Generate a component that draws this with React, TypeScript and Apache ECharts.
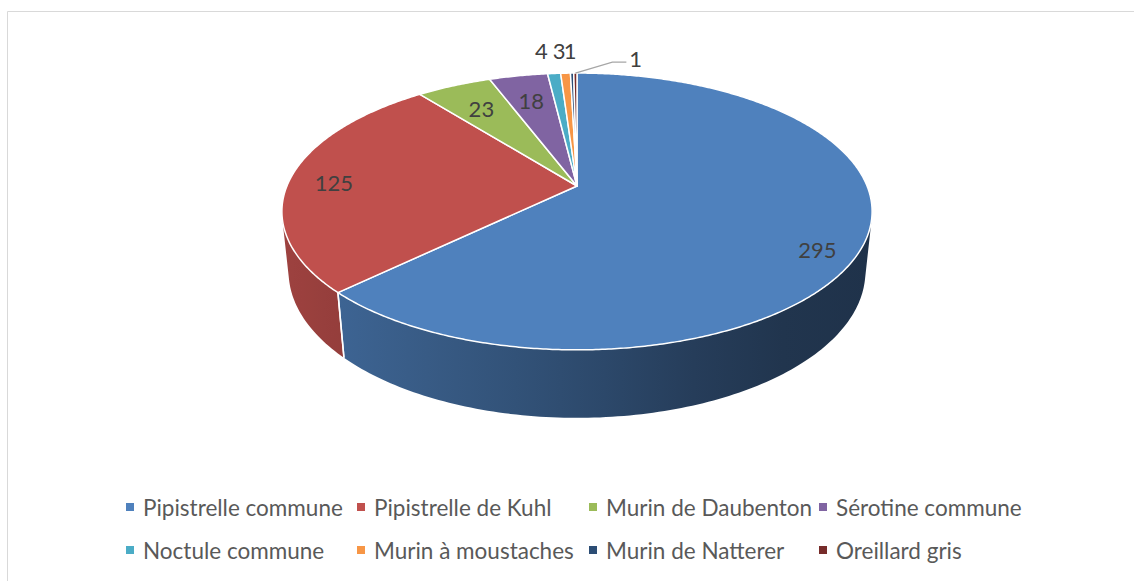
import React, { useEffect, useRef } from 'react';
import * as echarts from 'echarts';

// ---- data ----
const NAMES = [
  'Pipistrelle commune',
  'Pipistrelle de Kuhl',
  'Murin de Daubenton',
  'Sérotine commune',
  'Noctule commune',
  'Murin à moustaches',
  'Murin de Natterer',
  'Oreillard gris',
];
const VALUES = [295, 125, 23, 18, 4, 3, 1, 1];
const COLORS = ['#4F81BD', '#C0504D', '#9BBB59', '#8064A2', '#4BACC6', '#F79646', '#2C4D75', '#772C2A'];

// ---- layout (not data) ----
const LEGEND_COLUMNS = [[0, 4], [1, 5], [2, 6], [3, 7]];
const LEGEND_X = [126, 357, 589, 819];
const LABEL_LAYOUT: any[] = [
  { r: 0.85, y: -0.06, dx: 0 },
  { r: 0.85, y: -0.015, dx: 0 },
  { r: 0.75, y: 0, dx: 0 },
  { r: 0.75, y: 0, dx: 0 },
  { r: 1.25, y: 0, dx: -8 },
  { r: 1.25, y: 0, dx: -4 },
  { r: 1.25, y: 0, dx: -1 },
  { leader: true },
];

// perspective projection of a unit-radius disc
const CX = 577, CY = 186, F = 1399, D = 4.823, SIN = 0.461, COS = 0.887, H = 0.236;
function proj(x: number, y: number, z: number): number[] {
  const w = D - y * SIN - z * COS;
  return [CX + (F * x) / w, CY - (F * (y * COS - z * SIN)) / w];
}
const rim = (phi: number, r: number, y: number) => proj(r * Math.sin(phi), y, -r * Math.cos(phi));
const K = 1 / (D * COS);
const PHI_MIN = Math.acos(-K);
const PHI_MAX = 2 * Math.PI - PHI_MIN;

const SHADE_STOPS = [[0, 0.82], [0.55, 0.56], [0.8, 0.42], [1, 0.39]];
function shadeFactor(x: number) {
  const t = Math.max(0, Math.min(1, (x - 285) / 585));
  for (let i = 1; i < SHADE_STOPS.length; i++) {
    const [t0, f0] = SHADE_STOPS[i - 1];
    const [t1, f1] = SHADE_STOPS[i];
    if (t <= t1) return f0 + ((f1 - f0) * (t - t0)) / (t1 - t0);
  }
  return 0.39;
}
function mulColor(hex: string, f: number) {
  const n = parseInt(hex.slice(1), 16);
  const r = Math.round(((n >> 16) & 255) * f);
  const g = Math.round(((n >> 8) & 255) * f);
  const b = Math.round((n & 255) * f);
  return `rgb(${r},${g},${b})`;
}

const FONT = 'Lato, "Open Sans", sans-serif';

export default function App() {
  const ref = useRef<HTMLDivElement>(null);
  useEffect(() => {
    document.body.style.margin = '0';
    if (!ref.current) return;
    const chart = echarts.init(ref.current, undefined, { renderer: 'svg' });
    const total = VALUES.reduce((a, b) => a + b, 0);

    const renderItem = (params: any) => {
      const i = params.dataIndex;
      let start = 0;
      for (let j = 0; j < i; j++) start += VALUES[j];
      const a0 = (start / total) * 2 * Math.PI;
      const a1 = ((start + VALUES[i]) / total) * 2 * Math.PI;
      const children: any[] = [];

      // front-facing outer wall
      const w0 = Math.max(a0, PHI_MIN);
      const w1 = Math.min(a1, PHI_MAX);
      if (w1 > w0) {
        const n = Math.max(2, Math.ceil((w1 - w0) / (Math.PI / 180)));
        const top: number[][] = [];
        const bot: number[][] = [];
        for (let k = 0; k <= n; k++) {
          const phi = w0 + ((w1 - w0) * k) / n;
          top.push(rim(phi, 1, 0));
          bot.push(rim(phi, 1, -H));
        }
        const pts = top.concat(bot.reverse());
        const xs = pts.map((p) => p[0]);
        const xmin = Math.min(...xs);
        const xmax = Math.max(...xs);
        const stops = [];
        for (let k = 0; k <= 6; k++) {
          const x = xmin + ((xmax - xmin) * k) / 6;
          stops.push({ offset: k / 6, color: mulColor(COLORS[i], shadeFactor(x)) });
        }
        children.push({
          type: 'polygon',
          shape: { points: pts },
          style: { fill: new echarts.graphic.LinearGradient(0, 0, 1, 0, stops) },
        });
        [a0, a1].forEach((a) => {
          if (a > PHI_MIN && a < PHI_MAX) {
            const p = rim(a, 1, 0);
            const q = rim(a, 1, -H);
            children.push({
              type: 'line',
              shape: { x1: p[0], y1: p[1], x2: q[0], y2: q[1] },
              style: { stroke: '#ffffff', lineWidth: 1.5 },
              z2: 5,
            });
          }
        });
      }

      // top face
      const nTop = Math.max(2, Math.ceil((a1 - a0) / (Math.PI / 360)));
      const tp: number[][] = [proj(0, 0, 0)];
      for (let k = 0; k <= nTop; k++) {
        const phi = a0 + ((a1 - a0) * k) / nTop;
        tp.push(rim(phi, 1, 0));
      }
      children.push({
        type: 'polygon',
        shape: { points: tp },
        style: { fill: COLORS[i], stroke: '#ffffff', lineWidth: 1.5, lineJoin: 'round' },
        z2: 10,
      });

      // label
      const mid = (a0 + a1) / 2;
      const L = LABEL_LAYOUT[i];
      const txt = String(VALUES[i]);
      if (L.leader) {
        const s = rim(mid, 1.0, 0);
        const e1 = [s[0] + 37, s[1] - 11];
        const e2 = [e1[0] + 14, e1[1]];
        children.push({
          type: 'polyline',
          shape: { points: [s, e1, e2] },
          style: { stroke: '#a6a6a6', lineWidth: 1.2, fill: 'none' },
          z2: 90,
        });
        children.push({
          type: 'text',
          x: e2[0] + 3,
          y: e2[1] - 4,
          style: {
            text: txt, fill: '#404040', fontSize: 22, fontFamily: FONT,
            align: 'left', textAlign: 'left', verticalAlign: 'middle', textVerticalAlign: 'middle',
          },
          z2: 100,
        });
      } else {
        const p = rim(mid, L.r, L.y);
        children.push({
          type: 'text',
          x: p[0] + (L.dx || 0),
          y: p[1],
          style: {
            text: txt, fill: '#404040', fontSize: 22, fontFamily: FONT,
            align: 'center', textAlign: 'center', verticalAlign: 'middle', textVerticalAlign: 'middle',
          },
          z2: 100,
        });
      }
      return { type: 'group', children };
    };

    chart.setOption({
      animation: false,
      backgroundColor: '#ffffff',
      graphic: [
        {
          type: 'rect',
          silent: true,
          shape: { x: 7.5, y: 11.5, width: 1200, height: 700 },
          style: { fill: 'none', stroke: '#d9d9d9', lineWidth: 1 },
        },
      ],
      legend: LEGEND_COLUMNS.map((idx, c) => ({
        orient: 'vertical',
        left: LEGEND_X[c],
        top: 495,
        padding: 0,
        itemGap: 19,
        itemWidth: 12,
        itemHeight: 8,
        icon: 'path://M0 0H8V8H0Z M12 8L12 8',
        selectedMode: false,
        data: idx.map((i) => NAMES[i]),
        textStyle: { fontFamily: FONT, fontSize: 22.5, color: '#595959', lineHeight: 24 },
      })),
      series: [
        {
          type: 'custom',
          name: 'Espèces',
          coordinateSystem: 'none',
          silent: true,
          renderItem,
          data: VALUES.map((v, i) => ({ name: NAMES[i], value: v })),
        },
        {
          type: 'pie',
          name: 'legende',
          radius: [0, 0],
          center: [-100, -100],
          silent: true,
          label: { show: false },
          labelLine: { show: false },
          data: VALUES.map((v, i) => ({ name: NAMES[i], value: v, itemStyle: { color: COLORS[i] } })),
        },
      ],
    });
    return () => chart.dispose();
  }, []);
  return <div ref={ref} style={{ width: 1134, height: 581 }} />;
}
